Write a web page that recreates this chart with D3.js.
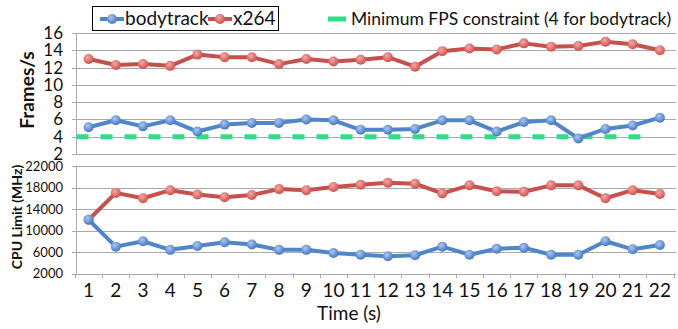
<!DOCTYPE html>
<html>
<head>
    <script src="https://cdnjs.cloudflare.com/ajax/libs/d3/7.8.5/d3.min.js"></script>
    <style>
        body { margin: 0; background: white; }
        text { font-family: Lato, "Open Sans", sans-serif; fill: #111; }
    </style>
</head>
<body>
    <div id="chart"></div>
    <script>
        // values
        const seconds = d3.range(1, 23);
        const bodytrackFps = [5.1, 5.9, 5.2, 5.9, 4.6, 5.4, 5.6, 5.6, 6.0, 5.9, 4.8, 4.8, 4.9, 5.9, 5.9, 4.6, 5.7, 5.9, 3.8, 4.9, 5.3, 6.2];
        const x264Fps = [13.0, 12.3, 12.4, 12.2, 13.5, 13.2, 13.2, 12.4, 13.0, 12.7, 12.9, 13.2, 12.1, 13.9, 14.2, 14.1, 14.8, 14.4, 14.5, 15.0, 14.7, 14.0];
        const bodytrackCpu = [12000, 7000, 8000, 6400, 7100, 7800, 7400, 6400, 6400, 5800, 5500, 5200, 5400, 7000, 5500, 6600, 6800, 5500, 5500, 8000, 6500, 7300];
        const x264Cpu = [12000, 17000, 16000, 17500, 16700, 16200, 16600, 17700, 17500, 18100, 18500, 18900, 18700, 16900, 18400, 17300, 17200, 18400, 18400, 16000, 17500, 16800];
        const fpsTicks = [2, 4, 6, 8, 10, 12, 14, 16];
        const cpuTicks = [2000, 6000, 10000, 14000, 18000, 22000];
        const minFps = 4;
        const minFpsSpan = [1, 21];

        const W = 678, H = 329;
        const svg = d3.select('#chart').append('svg')
            .attr('width', W).attr('height', H);

        const defs = svg.append('defs');
        function gloss(id, light, dark) {
            const g = defs.append('radialGradient').attr('id', id)
                .attr('cx', '40%').attr('cy', '35%').attr('r', '65%');
            g.append('stop').attr('offset', '0%').attr('stop-color', light);
            g.append('stop').attr('offset', '100%').attr('stop-color', dark);
        }
        gloss('gBlue', '#a9c8f2', '#4677c2');
        gloss('gRed', '#f5a9a6', '#cf4f4b');

        const BLUE = '#4f86c9', RED = '#c6504d', GREEN = '#2fdf88';
        const GRID = '#aaaaaa';

        const x = d3.scaleBand().domain(seconds).range([75, 673.5]);
        const cx = d => x(d) + x.bandwidth() / 2;
        const yTop = d3.scaleLinear().domain([2, 16]).range([154, 33]);
        const yBot = d3.scaleLinear().domain([2000, 22000]).range([273.5, 166]);

        function panel(y, ticks, fontSize) {
            const g = svg.append('g');
            g.selectAll('line.grid').data(ticks).join('line')
                .attr('x1', 76).attr('x2', 676)
                .attr('y1', d => Math.round(y(d)) + 0.5).attr('y2', d => Math.round(y(d)) + 0.5)
                .attr('stroke', GRID).attr('stroke-width', 1);
            g.append('line')
                .attr('x1', 76.5).attr('x2', 76.5)
                .attr('y1', y.range()[1]).attr('y2', y.range()[0])
                .attr('stroke', GRID);
            g.selectAll('line.tk').data(ticks).join('line')
                .attr('x1', 72).attr('x2', 76)
                .attr('y1', d => Math.round(y(d)) + 0.5).attr('y2', d => Math.round(y(d)) + 0.5)
                .attr('stroke', GRID);
            g.selectAll('text').data(ticks).join('text')
                .attr('x', 63).attr('y', d => y(d))
                .attr('dy', '0.35em')
                .attr('text-anchor', 'end')
                .style('font-size', fontSize + 'px')
                .text(d => d);
        }
        panel(yTop, fpsTicks, 17);
        panel(yBot, cpuTicks, 13);

        // x axis ticks and labels under the lower panel
        const xb = svg.append('g');
        xb.selectAll('line').data(seconds.concat([23])).join('line')
            .attr('x1', d => Math.round(d === 23 ? x.range()[1] : x(d)) + 0.5)
            .attr('x2', d => Math.round(d === 23 ? x.range()[1] : x(d)) + 0.5)
            .attr('y1', 273.5).attr('y2', 278)
            .attr('stroke', GRID);
        xb.selectAll('text').data(seconds).join('text')
            .attr('x', d => cx(d)).attr('y', 297)
            .attr('text-anchor', 'middle')
            .style('font-size', '19px')
            .text(d => d);
        svg.append('text')
            .attr('x', 349).attr('y', 320)
            .attr('text-anchor', 'middle')
            .style('font-size', '19px')
            .text('Time (s)');

        // axis titles
        svg.append('text')
            .attr('transform', 'translate(34,90) rotate(-90)')
            .attr('text-anchor', 'middle')
            .style('font-size', '19px').style('font-weight', 'bold')
            .text('Frames/s');
        svg.append('text')
            .attr('transform', 'translate(22,217) rotate(-90)')
            .attr('text-anchor', 'middle')
            .style('font-size', '14px').style('font-weight', 'bold')
            .text('CPU Limit (MHz)');

        // minimum fps constraint
        svg.append('line')
            .attr('x1', x(minFpsSpan[0]) + 1.5)
            .attr('x2', x(minFpsSpan[1]) + x.bandwidth() - 5)
            .attr('y1', yTop(minFps)).attr('y2', yTop(minFps))
            .attr('stroke', GREEN).attr('stroke-width', 5)
            .attr('stroke-dasharray', '12,12');

        function series(vals, y, color, grad) {
            const pts = seconds.map((s, i) => [cx(s), y(vals[i])]);
            svg.append('path')
                .attr('d', d3.line()(pts))
                .attr('fill', 'none').attr('stroke', color)
                .attr('stroke-width', 4).attr('stroke-linejoin', 'round');
            svg.append('g').selectAll('circle').data(pts).join('circle')
                .attr('cx', d => d[0]).attr('cy', d => d[1]).attr('r', 5)
                .attr('fill', `url(#${grad})`);
        }
        series(x264Fps, yTop, RED, 'gRed');
        series(bodytrackFps, yTop, BLUE, 'gBlue');
        series(x264Cpu, yBot, RED, 'gRed');
        series(bodytrackCpu, yBot, BLUE, 'gBlue');

        // legend
        const lg = svg.append('g');
        lg.append('rect')
            .attr('x', 92.5).attr('y', 6.5).attr('width', 186).attr('height', 24)
            .attr('fill', 'white').attr('stroke', '#000').attr('stroke-width', 1);
        const items = [
            {name: 'bodytrack', color: BLUE, grad: 'gBlue', x0: 100},
            {name: 'x264', color: RED, grad: 'gRed', x0: 208}
        ];
        items.forEach(it => {
            lg.append('line')
                .attr('x1', it.x0).attr('x2', it.x0 + 24)
                .attr('y1', 19).attr('y2', 19)
                .attr('stroke', it.color).attr('stroke-width', 4);
            lg.append('circle')
                .attr('cx', it.x0 + 12).attr('cy', 19).attr('r', 5)
                .attr('fill', `url(#${it.grad})`);
            lg.append('text')
                .attr('x', it.x0 + 25).attr('y', 25)
                .style('font-size', '19px')
                .text(it.name);
        });
        lg.append('line')
            .attr('x1', 328).attr('x2', 346)
            .attr('y1', 19).attr('y2', 19)
            .attr('stroke', GREEN).attr('stroke-width', 5);
        lg.append('text')
            .attr('x', 351).attr('y', 25)
            .style('font-size', '17.5px')
            .text('Minimum FPS constraint (4 for bodytrack)');
    </script>
</body>
</html>
